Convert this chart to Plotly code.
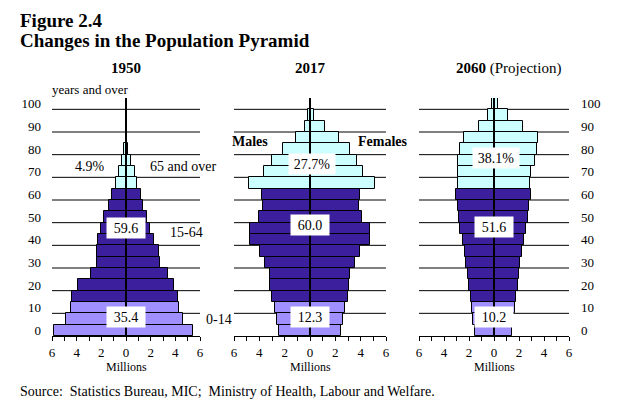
import plotly.graph_objects as go

# ---------------- data (millions) ----------------
age_positions = list(range(21))            # 0-4, 5-9, ..., 100+
age_tick_pos = [0, 2, 4, 6, 8, 10, 12, 14, 16, 18, 20]
age_tick_text = ["0", "10", "20", "30", "40", "50", "60", "70", "80", "90", "100"]

x_tick_vals = [-6, -5, -4, -3, -2, -1, 0, 1, 2, 3, 4, 5, 6]
x_tick_text = ["6", "", "4", "", "2", "", "0", "", "2", "", "4", "", "6"]

years = ["1950", "2017", "2060"]

males_1950 = [5.81, 4.86, 4.46, 4.35, 3.86, 2.86, 2.38, 2.38, 2.24, 2.05, 1.78,
              1.41, 1.16, 0.81, 0.59, 0.30, 0.14, 0.04, 0.01, 0.0, 0.0]
females_1950 = [5.46, 4.65, 4.30, 4.24, 3.89, 3.38, 2.78, 2.68, 2.30, 1.95, 1.68,
                1.35, 1.19, 0.92, 0.76, 0.41, 0.19, 0.07, 0.02, 0.0, 0.0]

males_2017 = [2.47, 2.63, 2.74, 3.03, 3.13, 3.16, 3.55, 3.95, 4.74, 4.74, 4.03,
              3.74, 3.82, 4.79, 3.61, 2.97, 2.16, 1.11, 0.39, 0.13, 0.01]
females_2017 = [2.43, 2.59, 2.73, 2.98, 3.07, 3.12, 3.52, 3.92, 4.71, 4.71, 4.10,
                3.84, 3.97, 5.13, 4.18, 3.73, 3.17, 2.25, 1.19, 0.34, 0.06]

males_2060 = [1.53, 1.67, 1.75, 1.88, 2.01, 2.12, 2.22, 2.35, 2.51, 2.70, 2.83,
              2.91, 3.02, 2.86, 2.86, 2.88, 2.75, 2.41, 1.24, 0.45, 0.13]
females_2060 = [1.40, 1.53, 1.64, 1.75, 1.91, 2.02, 2.10, 2.23, 2.42, 2.55, 2.69,
                2.77, 2.96, 2.88, 2.96, 3.25, 3.44, 3.52, 2.34, 1.13, 0.35]

share_0_14 = ["35.4", "12.3", "10.2"]
share_15_64 = ["59.6", "60.0", "51.6"]
share_65 = ["4.9%", "27.7%", "38.1%"]

# ---------------- style ----------------
FONT = "Liberation Serif"
C_YOUNG = "#9f8fff"
C_WORK = "#3b1f9c"
C_OLD = "#ccffff"
bar_colors = [C_YOUNG] * 3 + [C_WORK] * 10 + [C_OLD] * 8

W, H = 621, 416
L, R, T, B = 52, 52, 98, 80
PW, PH = W - L - R, H - T - B


def px(x):
    return (x - L) / PW


def py(y):
    return (H - B - y) / PH


domains = [[px(52), px(200)], [px(234), px(386)], [px(419), px(569)]]
centers = [126, 310, 494]

fig = go.Figure()
panels = [(males_1950, females_1950), (males_2017, females_2017), (males_2060, females_2060)]
for i, (m, f) in enumerate(panels):
    xa = "x" if i == 0 else f"x{i+1}"
    ya = "y" if i == 0 else f"y{i+1}"
    fig.add_trace(go.Bar(x=[-v for v in m], y=age_positions, orientation="h", width=1,
                         marker=dict(color=bar_colors, line=dict(color="black", width=1)),
                         xaxis=xa, yaxis=ya, showlegend=False, hoverinfo="skip"))
    fig.add_trace(go.Bar(x=f, y=age_positions, orientation="h", width=1,
                         marker=dict(color=bar_colors, line=dict(color="black", width=1)),
                         xaxis=xa, yaxis=ya, showlegend=False, hoverinfo="skip"))
    # gridlines at 10, 20, ..., 100
    for k in range(1, 11):
        yv = 2 * k - 0.5
        fig.add_shape(type="line", xref=xa, yref=ya, x0=-6, x1=6, y0=yv, y1=yv,
                      line=dict(color="black", width=1), layer="below")
    # centre line
    fig.add_shape(type="line", xref=xa, yref=ya, x0=0, x1=0, y0=-0.5, y1=20.5,
                  line=dict(color="black", width=2), layer="above")

axis_common_x = dict(range=[-6, 6], tickmode="array", tickvals=x_tick_vals, ticktext=x_tick_text,
                     ticks="outside", ticklen=4, tickcolor="black", showline=True,
                     linecolor="black", linewidth=1, showgrid=False, zeroline=False,
                     automargin=False,
                     tickfont=dict(family=FONT, size=13, color="black"), fixedrange=True)
axis_common_y = dict(range=[-0.5, 20.5], tickmode="array", tickvals=age_tick_pos,
                     ticktext=age_tick_text, ticks="", showline=False, showgrid=False,
                     zeroline=False, automargin=False,
                     tickfont=dict(family=FONT, size=13, color="black"),
                     fixedrange=True)

layout = dict(width=W, height=H, margin=dict(l=L, r=R, t=T, b=B, autoexpand=False),
              paper_bgcolor="white", plot_bgcolor="rgba(0,0,0,0)",
              barmode="overlay", bargap=0, showlegend=False,
              font=dict(family=FONT, color="black"))
for i in range(3):
    xk = "xaxis" if i == 0 else f"xaxis{i+1}"
    yk = "yaxis" if i == 0 else f"yaxis{i+1}"
    xa_anchor = "y" if i == 0 else f"y{i+1}"
    ya_anchor = "x" if i == 0 else f"x{i+1}"
    layout[xk] = dict(axis_common_x, domain=domains[i], anchor=xa_anchor)
    ydict = dict(axis_common_y, domain=[0, 1], anchor=ya_anchor)
    if i == 0:
        ydict.update(side="left", ticklabelstandoff=10)
    elif i == 1:
        ydict.update(showticklabels=False)
    else:
        ydict.update(side="right", ticklabelstandoff=11)
    layout[yk] = ydict
fig.update_layout(**layout)

ann = []


def add_text(x, y, text, size=13, xanchor="center", bold=False, box=False, w=None):
    t = f"<b>{text}</b>" if bold else text
    d = dict(xref="paper", yref="paper", x=px(x), y=py(y), text=t, showarrow=False,
             xanchor=xanchor, yanchor="middle", font=dict(family=FONT, size=size, color="black"))
    if box:
        d.update(bgcolor="white", borderpad=1, width=w, height=18)
    ann.append(d)


add_text(18, 20, "Figure 2.4", size=19, xanchor="left", bold=True)
add_text(18, 41, "Changes in the Population Pyramid", size=19, xanchor="left", bold=True)

add_text(126, 68, "1950", size=15, bold=True)
add_text(310, 68, "2017", size=15, bold=True)
add_text(508, 68, "<b>2060</b> (Projection)", size=15)

add_text(50, 90, "years and over", size=13, xanchor="left")
add_text(90, 166, share_65[0], size=14)
add_text(148, 166, "65 and over", size=14, xanchor="left")
add_text(168, 232, "15-64", size=14, xanchor="left")
add_text(204, 319, "0-14", size=14, xanchor="left")
add_text(250, 141, "Males", size=14, bold=True)
add_text(383, 141, "Females", size=14, bold=True)

box_y_65 = [None, 164, 158]
box_y_wk = [228, 225, 227]
for i in range(3):
    add_text(centers[i], box_y_wk[i], share_15_64[i], size=14, box=True, w=36)
    add_text(centers[i], 317, share_0_14[i], size=14, box=True, w=36)
    if box_y_65[i] is not None:
        add_text(centers[i] + 2, box_y_65[i], share_65[i], size=14, box=True, w=44)
    add_text(centers[i], 367, "Millions", size=12)

add_text(18, 391, "Source:  Statistics Bureau, MIC;  Ministry of Health, Labour and Welfare.",
         size=14, xanchor="left")

fig.update_layout(annotations=ann)
fig.write_html("out.html", config={"displayModeBar": False},
               post_script="document.body.style.margin='0px';")
